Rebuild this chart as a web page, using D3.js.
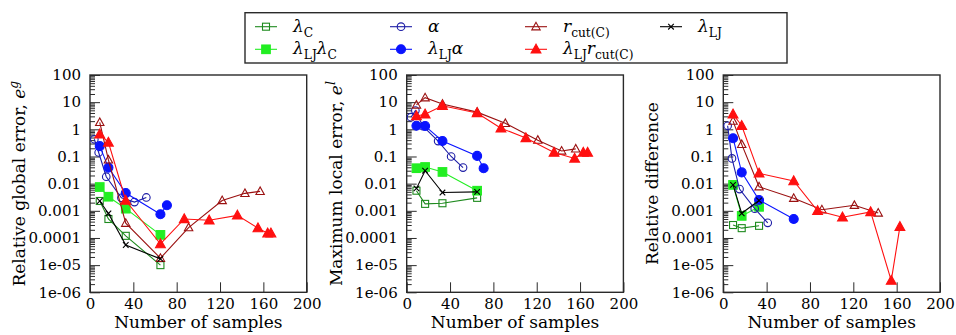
<!DOCTYPE html>
<html><head><meta charset="utf-8">
<script src="https://cdn.jsdelivr.net/npm/d3@7"></script>
<style>
html,body{margin:0;padding:0;background:#fff;}
svg{display:block;font-family:"DejaVu Serif",serif;}
</style></head>
<body><svg id="chart" width="956" height="335"></svg>
<script>
// ---------------- data ----------------
const xTicks = [0, 40, 80, 120, 160, 200];
const yTicks = [1e-6, 1e-5, 1e-4, 1e-3, 1e-2, 1e-1, 1, 10, 100];
const yTickLabels = ["1e-06", "1e-05", "0.0001", "0.001", "0.01", "0.1", "1", "10", "100"];
const panelTitles = ["Relative global error, ", "Maximum local error, ", "Relative difference"];
const panelSup = ["g", "l", ""];

// x (number of samples) per series and panel
const xLamC      = [[9, 17, 33, 65], [9, 17, 33, 65], [9, 17, 33]];
const xLamLJLamC = [[9, 17, 33, 65], [9, 17, 33, 65], [9, 17, 33]];
const xAlpha     = [[4, 8, 15, 29, 41, 52], [4, 8, 15, 29, 41, 52], [4, 8, 15, 29, 41]];
const xLamLJAlpha= [[9, 17, 33, 65, 71], [9, 17, 33, 65, 71], [9, 17, 33, 65]];
const xRcut      = [[9, 17, 33, 65, 91, 122, 143, 157], [9, 17, 33, 65, 91, 121, 143, 156], [9, 17, 33, 65, 91, 121, 143]];
const xLamLJRcut = [[9, 17, 33, 65, 87, 110, 136, 155, 164, 167], [9, 17, 33, 65, 87, 110, 136, 155, 163, 167], [9, 17, 33, 65, 87, 110, 136, 155, 163]];
const xLamLJ     = [[9, 17, 33, 65], [9, 17, 33, 65], [9, 17, 33]];

// y values per series and panel (global error, local error, relative difference)
const yLamC      = [[0.0023, 0.0005, 0.00012, 1.0e-5], [0.0055, 0.0018, 0.0019, 0.003], [0.0003, 0.00023, 0.00028]];
const yLamLJLamC = [[0.0075, 0.0033, 0.0012, 0.00013], [0.037, 0.041, 0.027, 0.0055], [0.009, 0.00065, 0.0014]];
const yAlpha     = [[0.43, 0.14, 0.018, 0.003, 0.0021, 0.0031], [2.8, 4.9, 1.3, 0.37, 0.1, 0.039], [1.35, 0.085, 0.0063, 0.0012, 0.00036]];
const yLamLJAlpha= [[0.24, 0.039, 0.0045, 0.00075, 0.0016], [1.35, 1.33, 0.37, 0.105, 0.037], [0.47, 0.026, 0.0025, 0.0005]];
const yRcut      = [[1.8, 0.075, 0.00035, 1.8e-5, 0.00024, 0.0024, 0.0044, 0.0052], [7.9, 14.6, 8.5, 4.3, 1.66, 0.4, 0.16, 0.19], [2.0, 0.28, 0.0077, 0.0029, 0.0011, 0.0016, 0.00083]];
const yLamLJRcut = [[0.66, 0.33, 0.0024, 6e-5, 0.0005, 0.00045, 0.00068, 0.00023, 0.00015, 0.00015], [3.1, 3.6, 7.4, 4.0, 1.1, 0.48, 0.14, 0.085, 0.14, 0.14], [3.6, 1.36, 0.024, 0.0125, 0.001, 0.00058, 0.00091, 2.7e-6, 0.00026]];
const yLamLJ     = [[0.0023, 0.0008, 5.5e-5, 1.7e-5], [0.0067, 0.03, 0.0047, 0.005], [0.009, 0.00081, 0.0024]];

// legend labels: [text, italic?, subscript?]
const labelLamC      = [["λ", 1, 0], ["C", 0, 1]];
const labelLamLJLamC = [["λ", 1, 0], ["LJ", 0, 1], ["λ", 1, 0], ["C", 0, 1]];
const labelAlpha     = [["α", 1, 0]];
const labelLamLJAlpha= [["λ", 1, 0], ["LJ", 0, 1], ["α", 1, 0]];
const labelRcut      = [["r", 1, 0], ["cut(C)", 0, 1]];
const labelLamLJRcut = [["λ", 1, 0], ["LJ", 0, 1], ["r", 1, 0], ["cut(C)", 0, 1]];
const labelLamLJ     = [["λ", 1, 0], ["LJ", 0, 1]];

// ---------------- styles ----------------
const series = [
  {xs: xLamC, ys: yLamC, label: labelLamC, color: "#1e8a1e", marker: "square", filled: false},
  {xs: xLamLJLamC, ys: yLamLJLamC, label: labelLamLJLamC, color: "#22ee22", marker: "square", filled: true},
  {xs: xAlpha, ys: yAlpha, label: labelAlpha, color: "#1c1ca6", marker: "circle", filled: false},
  {xs: xLamLJAlpha, ys: yLamLJAlpha, label: labelLamLJAlpha, color: "#0a14ff", marker: "circle", filled: true},
  {xs: xRcut, ys: yRcut, label: labelRcut, color: "#9a1010", marker: "triangle", filled: false},
  {xs: xLamLJRcut, ys: yLamLJRcut, label: labelLamLJRcut, color: "#ff1010", marker: "triangle", filled: true},
  {xs: xLamLJ, ys: yLamLJ, label: labelLamLJ, color: "#000000", marker: "cross", filled: false}
];

const svg = d3.select("#chart");
const panelLeft = [90, 406.7, 723.3];
const pw = 216.7, plotTop = 75, ph = 217.3;
const tickFont = 15, labelFont = 17;
const fontFam = "DejaVu Serif";
const frameColor = "#2a2a2a";

function drawMarker(g, type, filled, color, cx, cy) {
  const fill = filled ? color : "none";
  if (type === "square") {
    const s = filled ? 8.6 : 7;
    g.append("rect").attr("x", cx - s / 2).attr("y", cy - s / 2).attr("width", s).attr("height", s)
      .attr("fill", fill).attr("stroke", color).attr("stroke-width", 1.1);
  } else if (type === "circle") {
    g.append("circle").attr("cx", cx).attr("cy", cy).attr("r", filled ? 4.5 : 3.8)
      .attr("fill", fill).attr("stroke", color).attr("stroke-width", 1.1);
  } else if (type === "triangle") {
    const s = filled ? 4.9 : 4.2;
    const pts = [[cx, cy - s * 1.05], [cx - s, cy + s * 0.75], [cx + s, cy + s * 0.75]];
    g.append("polygon").attr("points", pts.map(p => p.join(",")).join(" "))
      .attr("fill", fill).attr("stroke", color).attr("stroke-width", 1.1);
  } else if (type === "cross") {
    const s = 2.8;
    g.append("path").attr("d", `M${cx - s},${cy - s}L${cx + s},${cy + s}M${cx - s},${cy + s}L${cx + s},${cy - s}`)
      .attr("stroke", color).attr("stroke-width", 1.1).attr("fill", "none");
  }
}

function richText(text, parts) {
  let shifted = false;
  parts.forEach(([t, it, sub]) => {
    const ts = text.append("tspan").text(t);
    if (it) ts.attr("font-style", "italic");
    if (sub && !shifted) { ts.attr("dy", 5).attr("font-size", "72%"); shifted = true; }
    else if (sub) { ts.attr("font-size", "72%"); }
    else if (!sub && shifted) { ts.attr("dy", -5); shifted = false; }
  });
}

panelLeft.forEach((left, p) => {
  const x = d3.scaleLinear().domain([0, 200]).range([left, left + pw]);
  const y = d3.scaleLog().domain([1e-6, 100]).range([plotTop + ph, plotTop]);
  const g = svg.append("g");

  // minor y ticks
  const minor = [];
  for (let e = -6; e < 2; e++) for (let k = 2; k <= 9; k++) minor.push(k * Math.pow(10, e));
  g.append("g").attr("transform", `translate(${left},0)`)
    .call(d3.axisLeft(y).tickValues(minor).tickSize(-5).tickFormat(""))
    .call(a => { a.select(".domain").remove(); a.selectAll("line").attr("stroke", frameColor); });
  // major y ticks
  g.append("g").attr("transform", `translate(${left},0)`)
    .call(d3.axisLeft(y).tickValues(yTicks).tickSize(-10).tickPadding(9)
      .tickFormat((d, i) => yTickLabels[i]))
    .call(a => {
      a.select(".domain").remove();
      a.selectAll("line").attr("stroke", frameColor);
      a.selectAll("text").attr("font-size", tickFont).attr("font-family", fontFam).attr("fill", "#000");
    });
  // x ticks
  g.append("g").attr("transform", `translate(0,${plotTop + ph})`)
    .call(d3.axisBottom(x).tickValues(xTicks).tickSize(-10).tickPadding(6))
    .call(a => {
      a.select(".domain").remove();
      a.selectAll("line").attr("stroke", frameColor);
      a.selectAll("text").attr("font-size", tickFont).attr("font-family", fontFam).attr("fill", "#000");
    });
  // frame
  g.append("rect").attr("x", left).attr("y", plotTop).attr("width", pw).attr("height", ph)
    .attr("fill", "none").attr("stroke", frameColor).attr("stroke-width", 1.4);

  // x label
  g.append("text").attr("x", left + pw / 2).attr("y", 328).attr("text-anchor", "middle")
    .attr("font-size", labelFont).text("Number of samples");
  // y label
  const yl = g.append("text").attr("transform", `translate(${left - 65},${plotTop + ph / 2}) rotate(-90)`)
    .attr("text-anchor", "middle").attr("font-size", labelFont);
  yl.append("tspan").text(panelTitles[p]);
  if (panelSup[p]) {
    yl.append("tspan").attr("font-style", "italic").text("e");
    yl.append("tspan").attr("font-style", "italic").attr("font-size", "72%").attr("dy", -7).text(panelSup[p]);
  }

  // series
  const line = d3.line().x(d => x(d[0])).y(d => y(d[1]));
  series.forEach(s => {
    const pts = s.xs[p].map((xv, i) => [xv, s.ys[p][i]]);
    const sg = g.append("g");
    sg.append("path").attr("d", line(pts)).attr("fill", "none").attr("stroke", s.color).attr("stroke-width", 1.1);
    pts.forEach(d => drawMarker(sg, s.marker, s.filled, s.color, x(d[0]), y(d[1])));
  });
});

// legend
const lg = svg.append("g");
lg.append("rect").attr("x", 245).attr("y", 12.7).attr("width", 542).attr("height", 50.3)
  .attr("fill", "#fff").attr("stroke", frameColor).attr("stroke-width", 1.4);
const colX = [255, 390, 525, 660];
const rowY = [26.7, 49.3];
series.forEach((s, i) => {
  const c = Math.floor(i / 2), r = i % 2;
  const lx = colX[c], ly = rowY[r];
  lg.append("line").attr("x1", lx).attr("x2", lx + 22).attr("y1", ly).attr("y2", ly)
    .attr("stroke", s.color).attr("stroke-width", 1.1);
  drawMarker(lg, s.marker, s.filled, s.color, lx + 11, ly);
  const t = lg.append("text").attr("x", lx + 38).attr("y", ly + 5).attr("font-size", labelFont);
  richText(t, s.label);
});
</script></body></html>
